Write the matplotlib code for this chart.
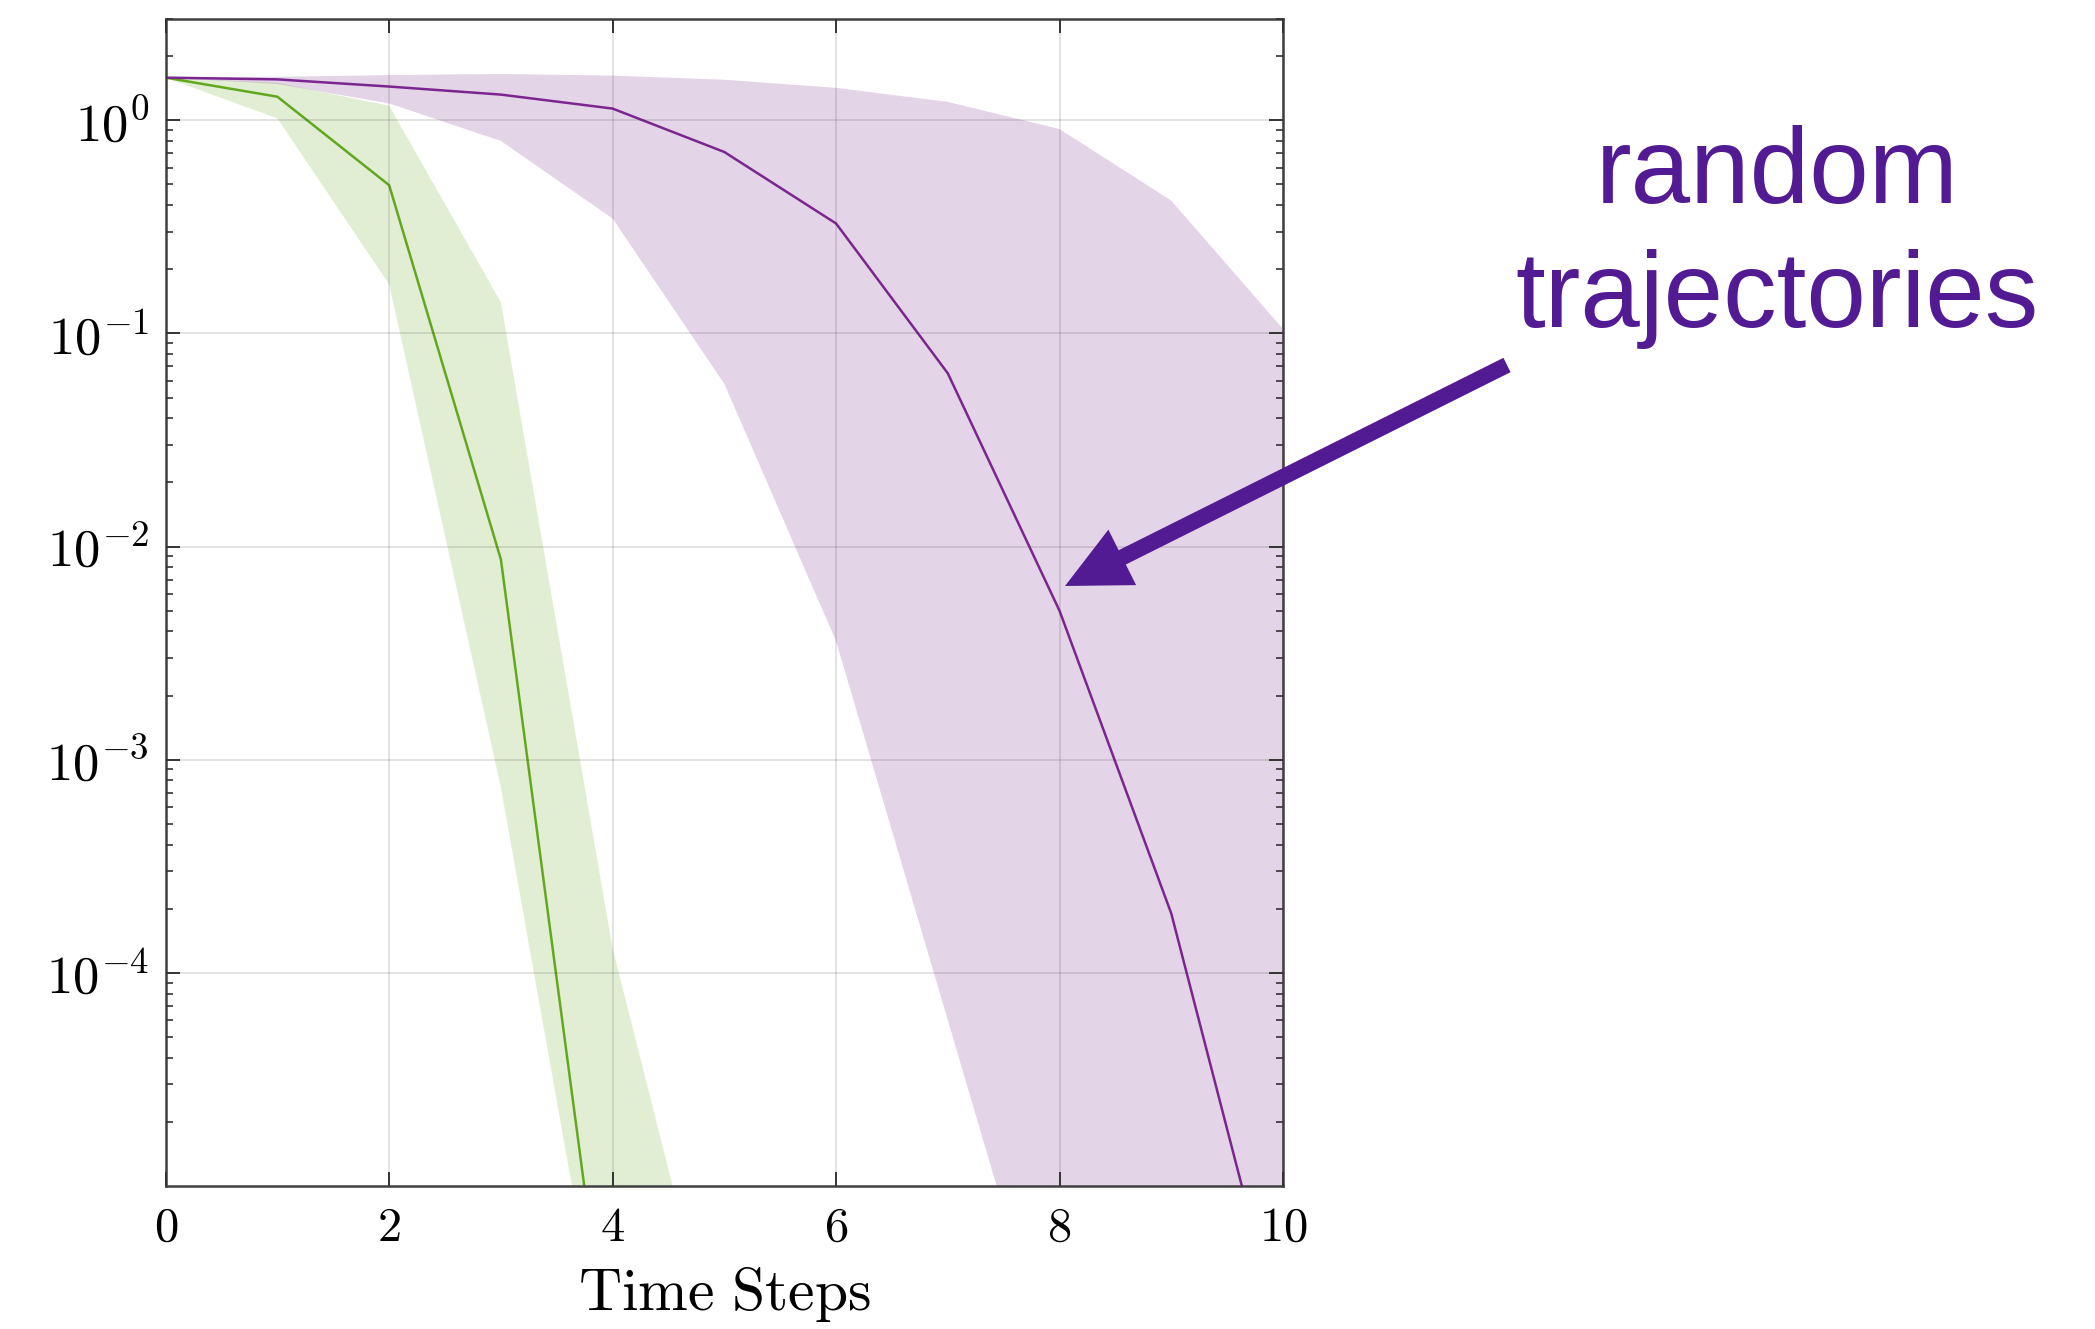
import numpy as np
import matplotlib
matplotlib.use("Agg")
from matplotlib import pyplot as plt
from matplotlib.patches import FancyArrow
from matplotlib.ticker import LogLocator, FixedLocator, NullFormatter

plt.rcParams['mathtext.fontset'] = 'cm'

# data
green_steps = [0, 1, 2, 3, 4, 5]
green_mean = [1.585, 1.29, 0.496, 0.0087, 1.0e-6, 1.0e-9]
green_hi = [1.585, 1.50, 1.17, 0.14, 1.3e-4, 1.1e-6]
green_lo = [1.585, 1.02, 0.17, 7.4e-4, 8.5e-7, 1.0e-9]

purple_steps = [0, 1, 2, 3, 4, 5, 6, 7, 8, 9, 10]
purple_mean = [1.585, 1.556, 1.44, 1.32, 1.135, 0.71, 0.328, 0.065, 0.0050, 1.9e-4, 1.8e-6]
purple_hi = [1.585, 1.60, 1.63, 1.65, 1.62, 1.55, 1.42, 1.22, 0.91, 0.42, 0.105]
purple_lo = [1.585, 1.48, 1.20, 0.80, 0.346, 0.058, 0.0036, 6e-5, 1e-6, 1e-7, 1e-8]

x_ticks = [0, 2, 4, 6, 8, 10]
y_ticks = [1e-4, 1e-3, 1e-2, 1e-1, 1e0]
y_labels = [r'$10^{-4}$', r'$10^{-3}$', r'$10^{-2}$', r'$10^{-1}$', r'$10^{0}$']

green_line = '#62a81f'
purple_line = '#7b2590'
note_color = '#531b93'

fig = plt.figure(figsize=(20.95, 13.29), dpi=100)
ax = fig.add_axes([0.0791, 0.1076, 0.5333, 0.8784])

ax.fill_between(green_steps, green_lo, green_hi, color='#6eaa28', alpha=0.2, lw=0)
ax.fill_between(purple_steps, purple_lo, purple_hi, color='#7a2890', alpha=0.2, lw=0)
ax.plot(green_steps, green_mean, color=green_line, lw=1.8)
ax.plot(purple_steps, purple_mean, color=purple_line, lw=1.8)

ax.set_yscale('log')
ax.set_xlim(0, 10)
ax.set_ylim(1e-5, 3)

ax.set_xticks(x_ticks)
ax.set_xticklabels([f'${v}$' for v in x_ticks], fontsize=35)
ax.yaxis.set_major_locator(FixedLocator(y_ticks))
ax.set_yticklabels(y_labels, fontsize=38)
ax.yaxis.set_minor_locator(LogLocator(base=10, subs=np.arange(2, 10), numticks=20))
ax.yaxis.set_minor_formatter(NullFormatter())

ax.tick_params(which='both', direction='in', top=True, right=True, color='#333333')
ax.tick_params(which='major', length=10, width=1.4, pad=12)
ax.tick_params(which='minor', length=5, width=1.2)
ax.grid(True, which='major', color='#262626', alpha=0.15, lw=1.2)
ax.set_axisbelow(False)
for s in ax.spines.values():
    s.set_color('#404040')
    s.set_linewidth(1.8)

ax.set_xlabel(r'$\mathrm{Time\ Steps}$', fontsize=43, labelpad=10)

# annotation
fig.text(1777 / 2095, 1 - 203 / 1329, 'random', ha='center', va='baseline',
         fontsize=77, color=note_color, family='Liberation Sans')
fig.text(1777 / 2095, 1 - 327 / 1329, 'trajectories', ha='center', va='baseline',
         fontsize=77, color=note_color, family='Liberation Sans')

arrow = FancyArrow(15.07, 9.64, -4.42, -2.21, width=0.16, head_width=0.62,
                   head_length=0.64, length_includes_head=True,
                   color=note_color, lw=0, transform=fig.dpi_scale_trans)
fig.add_artist(arrow)

fig.savefig('out.png', dpi=100)
